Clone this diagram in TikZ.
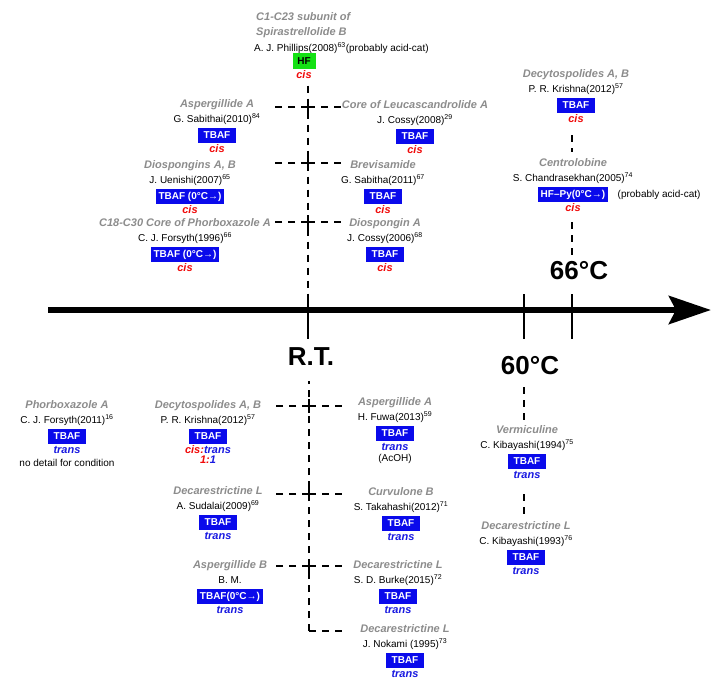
\documentclass[tikz,border=0pt]{standalone}
\usepackage{fontspec}
\setmainfont{Liberation Sans}
\usepackage{tikz}
\usetikzlibrary{arrows.meta,positioning}

\definecolor{tbafblue}{RGB}{10,10,235}
\definecolor{hfgreen}{RGB}{20,225,20}
\definecolor{cisred}{RGB}{240,10,10}
\definecolor{transblue}{RGB}{25,25,225}
\definecolor{namegray}{RGB}{140,140,140}

\begin{document}
\begin{tikzpicture}[x=1pt,y=-1pt,
    target/.style={text=namegray,font=\fontsize{11}{13}\selectfont\bfseries\itshape,inner sep=0pt,text height=8pt,text depth=2pt},
    author/.style={font=\fontsize{10}{12}\selectfont,inner sep=0pt,text height=8pt,text depth=2pt},
    reagent/.style={fill=tbafblue,text=white,font=\fontsize{10}{12}\selectfont\bfseries,inner xsep=3pt,inner ysep=0pt,minimum width=38pt,minimum height=15pt,text height=7.5pt,text depth=1.5pt},
    cis/.style={text=cisred,font=\fontsize{11}{13}\selectfont\bfseries\itshape,inner sep=0pt,text height=8pt,text depth=1pt},
    trans/.style={cis,text=transblue},
    temp/.style={font=\fontsize{26}{30}\selectfont\bfseries,inner sep=0pt},
    rung/.style={line width=1.3pt,dash pattern=on 7pt off 6pt},
    tick/.style={line width=1.2pt}]
\useasboundingbox (0,0) rectangle (713,681);

%One synthesis: target, author, reagent box, selectivity.
\def\entry#1#2#3#4#5#6#7#8{%
    \node[target] (#1) at (#2,#3) {#4};
    \node[author,below=5pt of #1] (#1-by) {#5};
    \node[reagent,below=3pt of #1-by] (#1-r) {#6};
    \node[#7,below=1pt of #1-r] (#1-res) {#8};
}
%Dashed cross on the R.T. line.
\def\crossing#1{%
    \coordinate[left=34pt of #1] (#1-w);
    \coordinate[right=34pt of #1] (#1-e);
    \draw[rung] (#1) -- (#1-w);
    \draw[rung] (#1) -- (#1-e);
    \draw[tick] (#1) ++(0,-7) -- ++(0,14);
}

% Define coordinates.
    \coordinate (start) at (48,310);
    \coordinate (end) at (711,310);
    \coordinate (rt) at (308,310);
    \coordinate (sixty) at (524,310);
    \coordinate (sixtysix) at (572,310);
    \coordinate (rt-top) at (308,294);
    \coordinate (x1) at (308,107);
    \coordinate (x2) at (308,163);
    \coordinate (x3) at (308,222);
    \coordinate (x4) at (309,406);
    \coordinate (x5) at (309,494);
    \coordinate (x6) at (309,566);
    \coordinate (corner) at (309,631);
    \coordinate (corner-e) at (343,631);

% Temperature axis
    \draw[line width=6.5pt,-{Stealth[length=42pt,width=28pt,inset=7pt]}] (start) -- (end);
    \draw[tick] (308,294) -- (308,339);
    \draw[tick] (524,294) -- (524,339);
    \draw[tick] (572,294) -- (572,339);
    \node[temp] (rt-l) at (311,357) {R.T.};
    \node[temp] (sixty-l) at (530,366) {60°C};
    \node[temp] (sixtysix-l) at (579,271) {66°C};

% Above the axis: cis products
    \node[target,anchor=west] (spir) at (256,17) {C1-C23 subunit of};
    \node[target,anchor=west] (spir-2) at (256,32) {Spirastrellolide B};
    \node[author,anchor=west] (spir-by) at (254,48) {A. J. Phillips(2008)\textsuperscript{63}(probably acid-cat)};
    \node[reagent,fill=hfgreen,text=black,minimum width=23pt,minimum height=16pt] (spir-r) at (304,61) {HF};
    \node[cis,below=1pt of spir-r] (spir-res) {cis};

    \entry{aspA}{217}{104}{Aspergillide A}{G. Sabithai(2010)\textsuperscript{84}}{TBAF}{cis}{cis}
    \entry{leuc}{415}{105}{Core of Leucascandrolide A}{J. Cossy(2008)\textsuperscript{29}}{TBAF}{cis}{cis}
    \entry{diosAB}{190}{165}{Diospongins A, B}{J. Uenishi(2007)\textsuperscript{65}}{TBAF (0°C→)}{cis}{cis}
    \entry{brev}{383}{165}{Brevisamide}{G. Sabitha(2011)\textsuperscript{67}}{TBAF}{cis}{cis}
    \entry{phorC}{185}{223}{C18-C30 Core of Phorboxazole A}{C. J. Forsyth(1996)\textsuperscript{66}}{TBAF (0°C→)}{cis}{cis}
    \entry{diosA}{385}{223}{Diospongin A}{J. Cossy(2006)\textsuperscript{68}}{TBAF}{cis}{cis}
    \entry{decyT}{576}{74}{Decytospolides A, B}{P. R. Krishna(2012)\textsuperscript{57}}{TBAF}{cis}{cis}
    \entry{centro}{573}{163}{Centrolobine}{S. Chandrasekhan(2005)\textsuperscript{74}}{HF--Py(0°C→)}{cis}{cis}
    \node[author,right=9pt of centro-r] (centro-n) {(probably acid-cat)};

% Below the axis: trans products
    \entry{phorA}{67}{405}{Phorboxazole A}{C. J. Forsyth(2011)\textsuperscript{16}}{TBAF}{trans}{trans}
    \node[author,below=4pt of phorA-res] (phorA-n) {no detail for condition};
    \entry{decyB}{208}{405}{Decytospolides A, B}{P. R. Krishna(2012)\textsuperscript{57}}{TBAF}{trans}{\textcolor{cisred}{cis:}trans}
    \node[trans,below=1pt of decyB-res] (decyB-n) {\textcolor{cisred}{1:}1};
    \entry{aspAb}{395}{402}{Aspergillide A}{H. Fuwa(2013)\textsuperscript{59}}{TBAF}{trans}{trans}
    \node[author,below=2pt of aspAb-res] (aspAb-n) {(AcOH)};
    \entry{verm}{527}{430}{Vermiculine}{C. Kibayashi(1994)\textsuperscript{75}}{TBAF}{trans}{trans}
    \entry{sud}{218}{491}{Decarestrictine L}{A. Sudalai(2009)\textsuperscript{69}}{TBAF}{trans}{trans}
    \entry{curv}{401}{492}{Curvulone B}{S. Takahashi(2012)\textsuperscript{71}}{TBAF}{trans}{trans}
    \entry{kiba}{526}{526}{Decarestrictine L}{C. Kibayashi(1993)\textsuperscript{76}}{TBAF}{trans}{trans}
    \entry{aspB}{230}{565}{Aspergillide B}{B. M.}{TBAF(0°C→)}{trans}{trans}
    \entry{burke}{398}{565}{Decarestrictine L}{S. D. Burke(2015)\textsuperscript{72}}{TBAF}{trans}{trans}
    \entry{noka}{405}{629}{Decarestrictine L}{J. Nokami (1995)\textsuperscript{73}}{TBAF}{trans}{trans}

% Dashed lines at R.T.
    \draw[rung,shorten <=6pt] (spir-res.south -| rt) -- (rt-top);
    \draw[rung,shorten >=15pt] (corner) -- (rt-l.south -| corner);
    \draw[rung] (corner) -- (corner-e);
    \crossing{x1}
    \crossing{x2}
    \crossing{x3}
    \crossing{x4}
    \crossing{x5}
    \crossing{x6}

% Dashed lines at 60 and 66 degrees
    \draw[rung,shorten <=12pt,shorten >=6pt] (decyT-res.south -| sixtysix) -- (centro.north -| sixtysix);
    \draw[rung,shorten <=10pt,shorten >=7pt] (centro-res.south -| sixtysix) -- (sixtysix-l.north -| sixtysix);
    \draw[rung,shorten <=12pt,shorten >=5pt] (sixty-l.south -| sixty) -- (verm.north -| sixty);
    \draw[rung,shorten <=15pt,shorten >=1pt] (verm-res.south -| sixty) -- (kiba.north -| sixty);

\end{tikzpicture}
\end{document}
